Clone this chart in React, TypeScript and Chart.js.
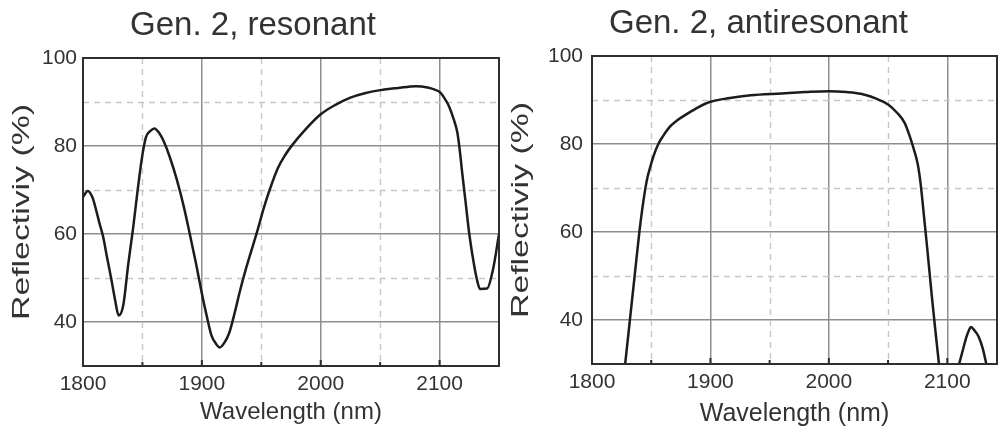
import React, { useEffect, useRef } from "react";
import { Chart, registerables } from "chart.js";

Chart.register(...registerables);

const FONT = "'Liberation Sans', Arial, Helvetica, sans-serif";
const TEXT = "#333333";

// ---- Gen. 2, resonant ----
const resonantWavelength = [
  1800, 1804, 1808, 1811, 1814, 1817, 1820, 1824, 1827, 1830,
  1834, 1838, 1842, 1846, 1850, 1853, 1857, 1860, 1864, 1868,
  1873, 1879, 1885, 1890, 1895, 1900, 1904, 1908, 1912, 1915,
  1919, 1923, 1928, 1932, 1937, 1942, 1947, 1952, 1957, 1964,
  1970, 1976, 1988, 2000, 2012, 2025, 2037, 2050, 2065, 2080,
  2090, 2096, 2100, 2105, 2108, 2112, 2115, 2117, 2119, 2122,
  2125, 2129, 2132, 2134, 2140, 2145, 2150,
];
const resonantReflectivity = [
  68.4, 69.8, 68.3, 65.5, 62.3, 59.3, 55, 49.5, 45, 41.5,
  44, 53, 61, 70, 78, 82, 83.5, 84, 83, 81,
  77.5, 72.3, 66, 59.8, 53.4, 46.5, 41.5, 37, 35, 34.2,
  35.3, 37.5, 42.5, 47, 52, 56.5, 61, 65.8, 70, 75,
  77.9, 80.2, 84, 87.2, 89.3, 91, 92, 92.7, 93.2, 93.6,
  93.3, 92.8, 92.3, 90.5, 89, 86, 83, 79, 74, 67,
  60, 53, 49, 47.5, 47.6, 52, 60,
];

// ---- Gen. 2, antiresonant ----
const antiWavelength = [
  1828, 1832, 1836, 1840, 1842.5, 1845, 1847, 1849, 1852, 1856,
  1860, 1866, 1872, 1880, 1890, 1900, 1915, 1934, 1960, 1980,
  2000, 2015, 2027, 2040, 2050, 2058, 2064, 2068, 2072, 2075,
  2077.5, 2080, 2083, 2087, 2090, 2093, 2101, 2110, 2113, 2116,
  2118.5, 2120, 2123, 2126.5, 2130, 2133,
];
const antiReflectivity = [
  30, 40, 50, 60, 65.3, 69.8, 72.6, 74.6, 77.3, 80,
  81.8, 84, 85.4, 86.8, 88.4, 89.6, 90.4, 91.1, 91.5, 91.8,
  92, 91.8, 91.4, 90.3, 89, 87, 84.8, 82, 78.6, 75.5,
  71, 64.5, 56.5, 45.3, 37.5, 30, null, 30, 33, 36,
  37.8, 38.4, 37.6, 36.2, 33.5, 30,
];

const xMajorTicks = [1800, 1900, 2000, 2100];
const xMinorTicks = [1850, 1950, 2050];
const yMajorTicks = [40, 60, 80, 100];
const yMinorTicks = [50, 70, 90];

const xLabel = "Wavelength (nm)";
const yLabel = "Reflectiviy (%)";

type PanelCfg = {
  title: string;
  titleX: number;
  titleY: number;
  titleSize: number;
  wl: number[];
  refl: (number | null)[];
  xMax: number;
  left: number;
  width: number;
  padTop: number;
  padRight: number;
  yWidth: number;
  xHeight: number;
  xTickPad: number;
  yTickPad: number;
  xTitleSize: number;
  xTitlePadBottom: number;
  yTitleX: number;
  yTitleSize: number;
  yTitleLength: number;
};

const panels: PanelCfg[] = [
  {
    title: "Gen. 2, resonant",
    titleX: 253,
    titleY: 35,
    titleSize: 33,
    wl: resonantWavelength,
    refl: resonantReflectivity,
    xMax: 2150,
    left: 0,
    width: 506,
    padTop: 58,
    padRight: 7,
    yWidth: 83,
    xHeight: 64,
    xTickPad: 6,
    yTickPad: 6,
    xTitleSize: 24,
    xTitlePadBottom: 3,
    yTitleX: 22,
    yTitleSize: 24,
    yTitleLength: 216,
  },
  {
    title: "Gen. 2, antiresonant",
    titleX: 258.5,
    titleY: 33,
    titleSize: 33,
    wl: antiWavelength,
    refl: antiReflectivity,
    xMax: 2142,
    left: 500,
    width: 498,
    padTop: 56,
    padRight: 1,
    yWidth: 92,
    xHeight: 66,
    xTickPad: 6,
    yTickPad: 9,
    xTitleSize: 25,
    xTitlePadBottom: 1,
    yTitleX: 21.5,
    yTitleSize: 24,
    yTitleLength: 216,
  },
];

function makeDecor(p: PanelCfg) {
  return {
    id: "decor",
    beforeDatasetsDraw(chart: any) {
      const { ctx, chartArea: a, scales } = chart;
      const x = scales.x;
      const y = scales.y;
      ctx.save();
      ctx.strokeStyle = "#c6c6c6";
      ctx.lineWidth = 1.4;
      ctx.setLineDash([6, 5]);
      ctx.beginPath();
      for (const v of xMinorTicks) {
        if (v < x.min || v > x.max) continue;
        const px = Math.round(x.getPixelForValue(v)) + 0.5;
        ctx.moveTo(px, a.top);
        ctx.lineTo(px, a.bottom);
      }
      for (const v of yMinorTicks) {
        if (v < y.min || v > y.max) continue;
        const py = Math.round(y.getPixelForValue(v)) + 0.5;
        ctx.moveTo(a.left, py);
        ctx.lineTo(a.right, py);
      }
      ctx.stroke();
      ctx.restore();
    },
    afterDraw(chart: any) {
      const { ctx, chartArea: a, scales } = chart;
      const x = scales.x;
      ctx.save();
      // frame
      ctx.setLineDash([]);
      ctx.strokeStyle = "#2e2e2e";
      ctx.lineWidth = 2;
      ctx.strokeRect(a.left, a.top, a.right - a.left, a.bottom - a.top);
      // inner tick marks on the bottom axis
      ctx.beginPath();
      for (const v of [...xMajorTicks, ...xMinorTicks]) {
        if (v <= x.min || v >= x.max) continue;
        const px = x.getPixelForValue(v);
        const len = xMajorTicks.includes(v) ? 6 : 4;
        ctx.moveTo(px, a.bottom);
        ctx.lineTo(px, a.bottom - len);
      }
      ctx.stroke();
      // panel title
      ctx.fillStyle = TEXT;
      ctx.font = `${p.titleSize}px ${FONT}`;
      ctx.textAlign = "center";
      ctx.textBaseline = "alphabetic";
      ctx.fillText(p.title, p.titleX, p.titleY);
      // y-axis title (stretched along its length)
      ctx.font = `${p.yTitleSize}px ${FONT}`;
      const w = ctx.measureText(yLabel).width;
      const sx = p.yTitleLength / w;
      ctx.translate(p.yTitleX, (a.top + a.bottom) / 2);
      ctx.rotate(-Math.PI / 2);
      ctx.scale(sx, 1);
      ctx.textBaseline = "middle";
      ctx.fillText(yLabel, 0, 0);
      ctx.restore();
    },
  };
}

function Panel({ p }: { p: PanelCfg }) {
  const ref = useRef<HTMLCanvasElement | null>(null);
  useEffect(() => {
    if (!ref.current) return;
    const data = p.wl.map((xv, i) => ({ x: xv, y: p.refl[i] }));
    const chart = new Chart(ref.current, {
      type: "line",
      data: {
        datasets: [
          {
            data: data as any,
            borderColor: "#1c1c1c",
            borderWidth: 2.5,
            pointRadius: 0,
            fill: false,
            cubicInterpolationMode: "monotone",
            spanGaps: false,
          },
        ],
      },
      options: {
        animation: false,
        responsive: false,
        maintainAspectRatio: false,
        layout: { padding: { top: p.padTop, right: p.padRight, bottom: 0, left: 0 } },
        plugins: { legend: { display: false }, tooltip: { enabled: false }, title: { display: false } },
        scales: {
          x: {
            type: "linear",
            min: 1800,
            max: p.xMax,
            afterBuildTicks: (s: any) => {
              s.ticks = xMajorTicks.map((v) => ({ value: v }));
            },
            afterFit: (s: any) => {
              s.height = p.xHeight;
            },
            grid: { color: "#8e8e8e", lineWidth: 1.5, drawTicks: false },
            border: { display: false },
            ticks: {
              padding: p.xTickPad,
              maxRotation: 0,
              autoSkip: false,
              color: TEXT,
              font: { family: FONT, size: 21 },
              callback: (v: any) => String(v),
            },
            title: {
              display: true,
              text: xLabel,
              color: TEXT,
              font: { family: FONT, size: p.xTitleSize },
              padding: { top: 0, bottom: p.xTitlePadBottom },
            },
          },
          y: {
            type: "linear",
            min: 30,
            max: 100,
            afterBuildTicks: (s: any) => {
              s.ticks = yMajorTicks.map((v) => ({ value: v }));
            },
            afterFit: (s: any) => {
              s.width = p.yWidth;
            },
            grid: { color: "#8e8e8e", lineWidth: 1.5, drawTicks: false },
            border: { display: false },
            ticks: {
              padding: p.yTickPad,
              color: TEXT,
              font: { family: FONT, size: 21 },
              callback: (v: any) => String(v),
            },
          },
        },
      },
      plugins: [makeDecor(p)],
    } as any);
    return () => chart.destroy();
  }, [p]);
  return (
    <canvas
      ref={ref}
      width={p.width}
      height={430}
      style={{ position: "absolute", left: p.left, top: 0, width: p.width, height: 430 }}
    />
  );
}

export default function App() {
  return (
    <div style={{ position: "absolute", left: 0, top: 0, width: 998, height: 430, background: "#ffffff", overflow: "hidden" }}>
      {panels.map((p) => (
        <Panel key={p.title} p={p} />
      ))}
    </div>
  );
}
